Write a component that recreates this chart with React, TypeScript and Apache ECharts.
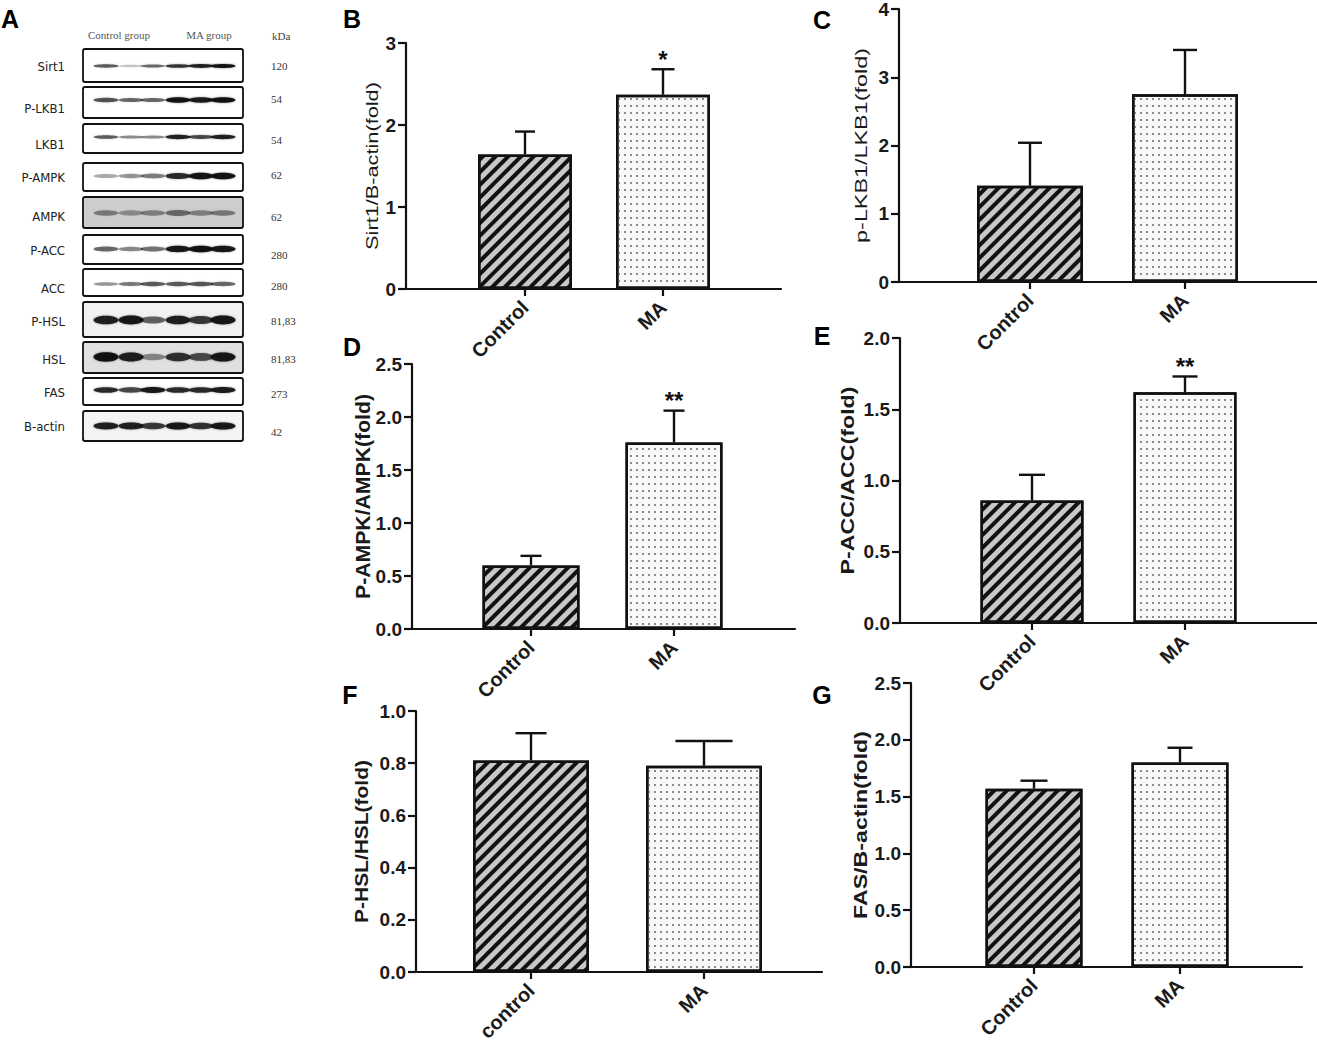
import React, { useEffect, useRef } from "react";
import * as echarts from "echarts";

// ---------- data ----------
const categories = ["Control", "MA"];
const categoriesLower = ["control", "MA"];

const sirt1Mean = [1.64, 2.37];
const sirt1Sem = [0.28, 0.31];
const sirt1Stars = ["", "*"];

const pLkb1Mean = [1.41, 2.75];
const pLkb1Sem = [0.63, 0.65];
const pLkb1Stars = ["", ""];

const pAmpkMean = [0.6, 1.76];
const pAmpkSem = [0.09, 0.3];
const pAmpkStars = ["", "**"];

const pAccMean = [0.86, 1.62];
const pAccSem = [0.18, 0.11];
const pAccStars = ["", "**"];

const pHslMean = [0.81, 0.79];
const pHslSem = [0.105, 0.095];
const pHslStars = ["", ""];

const fasMean = [1.57, 1.8];
const fasSem = [0.07, 0.13];
const fasStars = ["", ""];

// western blot (panel A)
const blotProteins = ["Sirt1", "P-LKB1", "LKB1", "P-AMPK", "AMPK", "P-ACC", "ACC", "P-HSL", "HSL", "FAS", "B-actin"];
const blotKda = ["120", "54", "54", "62", "62", "280", "280", "81,83", "81,83", "273", "42"];
const blotGroups = ["Control group", "MA group"];
const blotIntensity = [
  [0.6, 0.12, 0.5, 0.8, 0.9, 1.0],
  [0.65, 0.5, 0.5, 1.0, 0.95, 1.0],
  [0.6, 0.35, 0.35, 0.9, 0.7, 0.9],
  [0.22, 0.3, 0.4, 0.85, 1.0, 1.0],
  [0.3, 0.22, 0.28, 0.4, 0.28, 0.32],
  [0.5, 0.35, 0.45, 0.95, 1.0, 0.95],
  [0.3, 0.42, 0.6, 0.6, 0.62, 0.55],
  [0.9, 0.95, 0.5, 0.9, 0.75, 0.95],
  [1.0, 0.9, 0.3, 0.8, 0.65, 0.95],
  [0.85, 0.7, 0.95, 0.85, 0.85, 0.92],
  [0.9, 0.9, 0.75, 0.95, 0.8, 0.95],
];

// ---------- layout (pixels) ----------
const blotRowBoxes = [
  [49, 82], [87, 118], [124, 153], [163, 191], [197, 228], [235, 264],
  [269, 296], [302, 337], [342, 373], [378, 405], [411, 441],
];
const blotBandY = [66, 100, 137, 176, 213, 249, 284, 320, 357, 390, 426];
const blotLabelY = [66, 108, 144, 177, 216, 250, 288, 321, 359, 392, 426];
const blotKdaY = [66, 99, 140, 175, 217, 255, 286, 321, 359, 394, 432];
const blotBandH = [2.2, 3, 2.5, 3.6, 4.5, 3.6, 3, 5, 5.2, 3.4, 4];
const blotBg = ["#fff", "#fff", "#fff", "#fff", "#cdcdcd", "#fff", "#fff", "#f1f1f1", "#e0e0e0", "#fff", "#f4f4f4"];
const laneX = [106, 131, 153, 178, 201, 223];

const FONT = '"Liberation Sans", Arial, Helvetica, sans-serif';

const panels = [
  { letter: "B", lx: 352, ly: 19, mean: sirt1Mean, sem: sirt1Sem, stars: sirt1Stars, labels: categories,
    yName: "Sirt1/B-actin(fold)", max: 3, interval: 1, dec: 0,
    axisX: 406, axisEnd: 781, c1: 525, c2: 663, top: 43, zero: 289, barW: 94, caps: [20, 23],
    nameX: 372, nameLen: 168, nameSize: 17, nameWeight: "normal" },
  { letter: "C", lx: 822, ly: 20, mean: pLkb1Mean, sem: pLkb1Sem, stars: pLkb1Stars, labels: categories,
    yName: "p-LKB1/LKB1(fold)", max: 4, interval: 1, dec: 0,
    axisX: 899, axisEnd: 1317, c1: 1030, c2: 1185, top: 9, zero: 282, barW: 106, caps: [24, 24],
    nameX: 861, nameLen: 195, nameSize: 16, nameWeight: "normal" },
  { letter: "D", lx: 352, ly: 347, mean: pAmpkMean, sem: pAmpkSem, stars: pAmpkStars, labels: categories,
    yName: "P-AMPK/AMPK(fold)", max: 2.5, interval: 0.5, dec: 1,
    axisX: 412, axisEnd: 795, c1: 531, c2: 674, top: 364, zero: 629, barW: 97, caps: [21, 21],
    nameX: 363, nameLen: 205, nameSize: 20, nameWeight: "bold" },
  { letter: "E", lx: 822, ly: 336, mean: pAccMean, sem: pAccSem, stars: pAccStars, labels: categories,
    yName: "P-ACC/ACC(fold)", max: 2, interval: 0.5, dec: 1,
    axisX: 900, axisEnd: 1317, c1: 1032, c2: 1185, top: 338, zero: 623, barW: 103, caps: [26, 25],
    nameX: 847, nameLen: 188, nameSize: 18, nameWeight: "bold" },
  { letter: "F", lx: 350, ly: 695, mean: pHslMean, sem: pHslSem, stars: pHslStars, labels: categoriesLower,
    yName: "P-HSL/HSL(fold)", max: 1, interval: 0.2, dec: 1,
    axisX: 416, axisEnd: 822, c1: 531, c2: 704, top: 711, zero: 972, barW: 116, caps: [31, 57],
    nameX: 362, nameLen: 163, nameSize: 18, nameWeight: "bold" },
  { letter: "G", lx: 822, ly: 695, mean: fasMean, sem: fasSem, stars: fasStars, labels: categories,
    yName: "FAS/B-actin(fold)", max: 2.5, interval: 0.5, dec: 1,
    axisX: 911, axisEnd: 1302, c1: 1034, c2: 1180, top: 683, zero: 967, barW: 97, caps: [27, 25],
    nameX: 860, nameLen: 188, nameSize: 18, nameWeight: "bold" },
];

function measure(text: string, font: string) {
  const ctx = document.createElement("canvas").getContext("2d");
  if (!ctx) return text.length * 10;
  ctx.font = font;
  return ctx.measureText(text).width;
}

const hatch = {
  color: "#c8c8c8",
  borderColor: "#111",
  borderWidth: 2.5,
  decal: { symbol: "rect", symbolSize: 1, dashArrayX: [1, 0], dashArrayY: [4, 4.6], rotation: -Math.PI / 4, color: "#111" },
};
const dots = {
  color: "#f8f8f8",
  borderColor: "#111",
  borderWidth: 2.5,
  decal: { symbol: "rect", symbolSize: 1, dashArrayX: [1.2, 3.4], dashArrayY: [1.2, 4.1], rotation: 0, color: "#8a8a8a" },
};

function buildOption() {
  const grids: any[] = [];
  const xAxes: any[] = [];
  const yAxes: any[] = [];
  const series: any[] = [];
  const graphics: any[] = [];

  panels.forEach((p, i) => {
    const s = p.c2 - p.c1;
    const xmin = 1 - (p.c1 - p.axisX) / s;
    const xmax = 2 + (p.axisEnd - p.c2) / s;
    grids.push({ left: p.axisX, top: p.top, width: p.axisEnd - p.axisX, height: p.zero - p.top, containLabel: false, outerBoundsMode: "none" });
    const labels = p.labels;
    xAxes.push({
      type: "value", gridIndex: i, min: xmin, max: xmax,
      splitLine: { show: false },
      axisLine: { show: true, onZero: false, lineStyle: { color: "#111", width: 2.2 } },
      axisTick: { show: true, length: 7, customValues: [1, 2], lineStyle: { color: "#111", width: 2.2 } },
      axisLabel: {
        customValues: [1, 2], rotate: 45, margin: 15,
        formatter: (v: number) => labels[Math.round(v) - 1] || "",
        fontFamily: FONT, fontWeight: "bold", fontSize: 20, color: "#1a1a1a",
      },
    });
    const dec = p.dec;
    yAxes.push({
      type: "value", gridIndex: i, min: 0, max: p.max, interval: p.interval,
      splitLine: { show: false },
      axisLine: { show: true, lineStyle: { color: "#111", width: 2.2 } },
      axisTick: { show: true, length: 8, lineStyle: { color: "#111", width: 2.2 } },
      axisLabel: {
        margin: 10, formatter: (v: number) => v.toFixed(dec),
        fontFamily: FONT, fontWeight: "bold", fontSize: 19, color: "#1a1a1a",
      },
    });
    series.push({
      type: "bar", xAxisIndex: i, yAxisIndex: i, barWidth: p.barW,
      data: p.mean.map((m, k) => ({ value: [k + 1, m], itemStyle: k === 0 ? hatch : dots })),
      z: 2,
    });
    const caps = p.caps;
    const stars = p.stars;
    series.push({
      type: "custom", xAxisIndex: i, yAxisIndex: i, z: 3,
      encode: { x: 0, y: 1 },
      data: p.mean.map((m, k) => [k + 1, m, p.sem[k]]),
      renderItem: (params: any, api: any) => {
        const x = api.value(0);
        const m = api.value(1);
        const e = api.value(2);
        const idx = params.dataIndex;
        const base = api.coord([x, m]);
        const top = api.coord([x, m + e]);
        const half = caps[idx] / 2;
        const children: any[] = [
          { type: "line", shape: { x1: base[0], y1: base[1], x2: top[0], y2: top[1] }, style: { stroke: "#111", lineWidth: 2.4 } },
          { type: "line", shape: { x1: top[0] - half, y1: top[1], x2: top[0] + half, y2: top[1] }, style: { stroke: "#111", lineWidth: 2.4 } },
        ];
        if (stars[idx]) {
          children.push({
            type: "text", x: top[0], y: top[1] - 10,
            style: { text: stars[idx], font: `bold 24px ${FONT}`, fill: "#111", align: "center", verticalAlign: "middle", textAlign: "center", textVerticalAlign: "middle" },
          });
        }
        return { type: "group", children };
      },
    });
    // panel letter
    graphics.push({
      type: "text", x: p.lx, y: p.ly,
      style: { text: p.letter, font: `bold 25px ${FONT}`, fill: "#000", align: "center", verticalAlign: "middle", textAlign: "center", textVerticalAlign: "middle" },
    });
    // y-axis name (stretched like the reference)
    const nameFont = `${p.nameWeight} ${p.nameSize}px ${FONT}`;
    const w = measure(p.yName, nameFont);
    graphics.push({
      type: "text", x: p.nameX, y: (p.top + p.zero) / 2, rotation: Math.PI / 2, scaleX: p.nameLen / w, scaleY: 1,
      style: { text: p.yName, font: nameFont, fill: "#1a1a1a", align: "center", verticalAlign: "middle", textAlign: "center", textVerticalAlign: "middle" },
    });
  });

  // ----- panel A: western blot -----
  graphics.push({
    type: "text", x: 10, y: 19,
    style: { text: "A", font: `bold 25px ${FONT}`, fill: "#000", align: "center", verticalAlign: "middle", textAlign: "center", textVerticalAlign: "middle" },
  });
  const serif = '"Liberation Serif", "Times New Roman", serif';
  const headX = [119, 209];
  blotGroups.forEach((g, k) => {
    graphics.push({ type: "text", x: headX[k], y: 35, style: { text: g, font: `11px ${serif}`, fill: "#555", align: "center", verticalAlign: "middle", textAlign: "center", textVerticalAlign: "middle" } });
  });
  graphics.push({ type: "text", x: 272, y: 36, style: { text: "kDa", font: `11px ${serif}`, fill: "#444", align: "left", verticalAlign: "middle", textAlign: "left", textVerticalAlign: "middle" } });

  blotProteins.forEach((name, r) => {
    const [y0, y1] = blotRowBoxes[r];
    graphics.push({
      type: "rect", shape: { x: 83, y: y0, width: 160, height: y1 - y0, r: 2 },
      style: { fill: blotBg[r], stroke: "#111", lineWidth: 1.8 },
    });
    blotIntensity[r].forEach((v, k) => {
      const a = 0.12 + 0.85 * v;
      graphics.push({
        type: "ellipse",
        shape: { cx: laneX[k], cy: blotBandY[r], rx: 12.5, ry: blotBandH[r] * (0.5 + 0.4 * v) },
        style: { fill: `rgba(12,12,12,${a.toFixed(2)})`, shadowBlur: 2, shadowColor: `rgba(12,12,12,${(a * 0.5).toFixed(2)})` },
      });
    });
    graphics.push({
      type: "text", x: 65, y: blotLabelY[r],
      style: { text: name, font: `13px "Liberation Sans Narrow", "DejaVu Sans Condensed", ${FONT}`, fill: "#222", align: "right", verticalAlign: "middle", textAlign: "right", textVerticalAlign: "middle" },
    });
    graphics.push({
      type: "text", x: 271, y: blotKdaY[r],
      style: { text: blotKda[r], font: `11px ${serif}`, fill: "#333", align: "left", verticalAlign: "middle", textAlign: "left", textVerticalAlign: "middle" },
    });
  });

  return {
    animation: false,
    backgroundColor: "#fff",
    grid: grids,
    xAxis: xAxes,
    yAxis: yAxes,
    series,
    graphic: { elements: graphics },
  };
}

export default function App() {
  const ref = useRef<HTMLDivElement>(null);
  useEffect(() => {
    if (!ref.current) return;
    const chart = echarts.init(ref.current, null, { renderer: "svg" });
    chart.setOption(buildOption() as any);
    return () => chart.dispose();
  }, []);
  return (
    <div
      ref={ref}
      style={{ position: "fixed", left: 0, top: 0, width: 1317, height: 1046, background: "#fff" }}
    />
  );
}
